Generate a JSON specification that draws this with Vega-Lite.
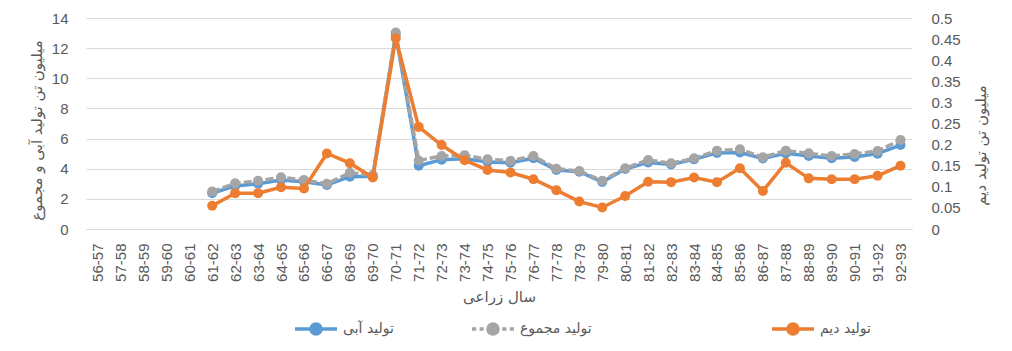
{
  "$schema": "https://vega.github.io/schema/vega-lite/v6.json",
  "autosize": "none",
  "width": 826,
  "height": 211,
  "padding": {"left": 86, "top": 18, "right": 100, "bottom": 122},
  "background": "white",
  "config": {
    "view": {"stroke": null},
    "axis": {
      "labelFont": "Liberation Sans",
      "labelFontSize": 15,
      "labelColor": "#595959",
      "titleFont": "DejaVu Sans",
      "titleFontSize": 15,
      "titleFontWeight": "normal",
      "titleColor": "#595959",
      "ticks": false,
      "gridColor": "#D9D9D9",
      "gridWidth": 1,
      "domainColor": "#D9D9D9"
    }
  },
  "data": {
    "values": [
      {"year": "61-62", "irrigated": 2.37, "total": 2.48, "rainfed": 0.055},
      {"year": "62-63", "irrigated": 2.86, "total": 3.03, "rainfed": 0.085},
      {"year": "63-64", "irrigated": 3.0, "total": 3.2, "rainfed": 0.085},
      {"year": "64-65", "irrigated": 3.25, "total": 3.43, "rainfed": 0.099},
      {"year": "65-66", "irrigated": 3.14, "total": 3.25, "rainfed": 0.096},
      {"year": "66-67", "irrigated": 2.92, "total": 3.0, "rainfed": 0.179},
      {"year": "68-69", "irrigated": 3.47, "total": 3.74, "rainfed": 0.156},
      {"year": "69-70", "irrigated": 3.5, "total": 3.58, "rainfed": 0.122},
      {"year": "70-71", "irrigated": 12.9, "total": 13.03, "rainfed": 0.452},
      {"year": "71-72", "irrigated": 4.2, "total": 4.55, "rainfed": 0.242},
      {"year": "72-73", "irrigated": 4.6, "total": 4.84, "rainfed": 0.199},
      {"year": "73-74", "irrigated": 4.66, "total": 4.9, "rainfed": 0.163},
      {"year": "74-75", "irrigated": 4.45, "total": 4.62, "rainfed": 0.14},
      {"year": "75-76", "irrigated": 4.4, "total": 4.53, "rainfed": 0.134},
      {"year": "76-77", "irrigated": 4.7, "total": 4.84, "rainfed": 0.118},
      {"year": "77-78", "irrigated": 3.92, "total": 4.0, "rainfed": 0.092},
      {"year": "78-79", "irrigated": 3.8, "total": 3.85, "rainfed": 0.065},
      {"year": "79-80", "irrigated": 3.12, "total": 3.2, "rainfed": 0.051},
      {"year": "80-81", "irrigated": 3.98, "total": 4.03, "rainfed": 0.078},
      {"year": "81-82", "irrigated": 4.42, "total": 4.58, "rainfed": 0.112},
      {"year": "82-83", "irrigated": 4.28, "total": 4.36, "rainfed": 0.111},
      {"year": "83-84", "irrigated": 4.62, "total": 4.69, "rainfed": 0.122},
      {"year": "84-85", "irrigated": 5.05, "total": 5.2, "rainfed": 0.111},
      {"year": "85-86", "irrigated": 5.08, "total": 5.29, "rainfed": 0.144},
      {"year": "86-87", "irrigated": 4.68, "total": 4.76, "rainfed": 0.09},
      {"year": "87-88", "irrigated": 5.02, "total": 5.2, "rainfed": 0.157},
      {"year": "88-89", "irrigated": 4.84, "total": 5.02, "rainfed": 0.12},
      {"year": "89-90", "irrigated": 4.69, "total": 4.84, "rainfed": 0.118},
      {"year": "90-91", "irrigated": 4.78, "total": 4.98, "rainfed": 0.118},
      {"year": "91-92", "irrigated": 5.0, "total": 5.18, "rainfed": 0.126},
      {"year": "92-93", "irrigated": 5.57, "total": 5.9, "rainfed": 0.15}
    ]
  },
  "encoding": {
    "x": {
      "field": "year",
      "type": "ordinal",
      "scale": {
        "type": "point",
        "padding": 0.5,
        "domain": ["56-57","57-58","58-59","59-60","60-61","61-62","62-63","63-64","64-65","65-66","66-67","68-69","69-70","70-71","71-72","72-73","73-74","74-75","75-76","76-77","77-78","78-79","79-80","80-81","81-82","82-83","83-84","84-85","85-86","86-87","87-88","88-89","89-90","90-91","91-92","92-93"]
      },
      "axis": {
        "title": "سال زراعی",
        "labelAngle": -90,
        "labelPadding": 14,
        "titlePadding": 8,
        "grid": false,
        "domain": true
      }
    }
  },
  "layer": [
    {
      "mark": {"type": "line", "color": "#5B9BD5", "strokeWidth": 3.5, "point": {"filled": true, "size": 100, "color": "#5B9BD5"}},
      "encoding": {
        "y": {
          "field": "irrigated",
          "type": "quantitative",
          "scale": {"domain": [0, 14], "nice": false},
          "axis": {
            "orient": "left",
            "values": [0, 2, 4, 6, 8, 10, 12, 14],
            "grid": true,
            "domain": false,
            "labelPadding": 18,
            "title": "میلیون تن تولید آبی و مجموع",
            "titlePadding": 7,
            "titleY": 112
          }
        },
        "color": {
          "datum": "تولید آبی",
          "scale": {"range": ["#5B9BD5"]},
          "legend": {
            "orient": "none",
            "legendX": 207,
            "legendY": 288,
            "title": null,
            "symbolType": "M-1,0H1M-0.24,0A0.24,0.24 0 1,0 0.24,0A0.24,0.24 0 1,0 -0.24,0Z",
            "symbolSize": 1764,
            "symbolStrokeWidth": 3.5,
            "labelFont": "DejaVu Sans",
            "labelFontSize": 14,
            "labelColor": "#595959",
            "encode": {"symbols": {"update": {"fill": {"value": "#5B9BD5"}, "stroke": {"value": "#5B9BD5"}, "strokeWidth": {"value": 3.5}}}}
          }
        }
      }
    },
    {
      "mark": {"type": "line", "color": "#A5A5A5", "strokeWidth": 3.5, "strokeDash": [8, 3], "point": {"filled": true, "size": 100, "color": "#A5A5A5"}},
      "encoding": {
        "y": {
          "field": "total",
          "type": "quantitative",
          "scale": {"domain": [0, 14], "nice": false},
          "axis": null
        },
        "color": {
          "datum": "تولید مجموع",
          "scale": {"range": ["#A5A5A5"]},
          "legend": {
            "orient": "none",
            "legendX": 384,
            "legendY": 288,
            "title": null,
            "symbolType": "M-1,0H-0.8M-0.64,0H-0.44M0.44,0H0.64M0.8,0H1M-0.24,0A0.24,0.24 0 1,0 0.24,0A0.24,0.24 0 1,0 -0.24,0Z",
            "symbolSize": 1764,
            "symbolStrokeWidth": 3.5,
            "labelFont": "DejaVu Sans",
            "labelFontSize": 14,
            "labelColor": "#595959",
            "encode": {"symbols": {"update": {"fill": {"value": "#A5A5A5"}, "stroke": {"value": "#A5A5A5"}, "strokeWidth": {"value": 3.5}}}}
          }
        }
      }
    },
    {
      "mark": {"type": "line", "color": "#ED7D31", "strokeWidth": 3.5, "point": {"filled": true, "size": 100, "color": "#ED7D31"}},
      "encoding": {
        "y": {
          "field": "rainfed",
          "type": "quantitative",
          "scale": {"domain": [0, 0.5], "nice": false},
          "axis": {
            "orient": "right",
            "values": [0, 0.05, 0.1, 0.15, 0.2, 0.25, 0.3, 0.35, 0.4, 0.45, 0.5],
            "format": "~g",
            "grid": false,
            "domain": false,
            "labelPadding": 19,
            "title": "میلیون تن تولید دیم",
            "titleAngle": -90,
            "titlePadding": 28,
            "titleY": 127
          }
        },
        "color": {
          "datum": "تولید دیم",
          "scale": {"range": ["#ED7D31"]},
          "legend": {
            "orient": "none",
            "legendX": 684,
            "legendY": 288,
            "title": null,
            "symbolType": "M-1,0H1M-0.24,0A0.24,0.24 0 1,0 0.24,0A0.24,0.24 0 1,0 -0.24,0Z",
            "symbolSize": 1764,
            "symbolStrokeWidth": 3.5,
            "labelFont": "DejaVu Sans",
            "labelFontSize": 14,
            "labelColor": "#595959",
            "encode": {"symbols": {"update": {"fill": {"value": "#ED7D31"}, "stroke": {"value": "#ED7D31"}, "strokeWidth": {"value": 3.5}}}}
          }
        }
      }
    }
  ],
  "resolve": {"scale": {"y": "independent", "color": "independent"}}
}
